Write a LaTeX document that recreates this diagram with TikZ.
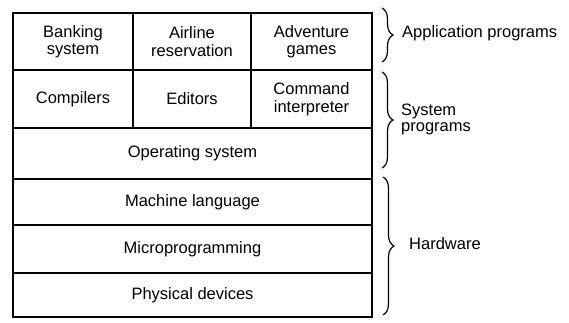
\documentclass[tikz,border=0pt]{standalone}
\usepackage{fontspec}
\setmainfont{Liberation Sans}
\usetikzlibrary{decorations.pathreplacing}
\begin{document}
\begin{tikzpicture}[x=1pt, y=-1pt,
  cell/.style={draw=black, line width=1.3pt, inner sep=0pt, outer sep=0pt,
    align=center, font=\fontsize{16.5}{17.5}\selectfont},
  sidelabel/.style={anchor=west, align=left, inner sep=0pt,
    font=\fontsize{16.5}{16}\selectfont},
  curly/.style={decorate, decoration={brace, amplitude=11pt}, line width=1.2pt}]
\useasboundingbox (0,0) rectangle (569,322);

% application programs row
\node[cell, minimum width=120pt, minimum height=57pt] (bank) at (73,41.5) {Banking\\system};
\node[cell, minimum width=118pt, minimum height=57pt] (air) at (192,41.5) {Airline\\reservation};
\node[cell, minimum width=121pt, minimum height=57pt] (adv) at (311.5,41.5) {Adventure\\games};

% system programs row
\node[cell, minimum width=120pt, minimum height=58pt] (comp) at (73,99) {Compilers};
\node[cell, minimum width=118pt, minimum height=58pt] (edit) at (192,99) {Editors};
\node[cell, minimum width=121pt, minimum height=58pt] (cmd) at (311.5,99) {Command\\interpreter};

% full-width layers
\node[cell, minimum width=359pt, minimum height=51pt] (os) at (192.5,153.5) {Operating system};
\node[cell, minimum width=359pt, minimum height=46pt] (mach) at (192.5,202) {Machine language};
\node[cell, minimum width=359pt, minimum height=48pt] (micro) at (192.5,249) {Microprogramming};
\node[cell, minimum width=359pt, minimum height=44pt] (phys) at (192.5,295) {Physical devices};

% brace end points
\coordinate (apptop) at (382,8);
\coordinate (appbot) at (382,62);
\coordinate (systop) at (382,72);
\coordinate (sysbot) at (382,168);
\coordinate (hwtop) at (383,177);
\coordinate (hwbot) at (383,315);

\draw[curly] (apptop) -- (appbot);
\draw[curly] (systop) -- (sysbot);
\draw[curly] (hwtop) -- (hwbot);

% group labels
\node[sidelabel] (applbl) at (402,33) {Application programs};
\node[sidelabel] (syslbl) at (401,119) {System\\programs};
\node[sidelabel] (hwlbl) at (409,244) {Hardware};
\end{tikzpicture}
\end{document}
